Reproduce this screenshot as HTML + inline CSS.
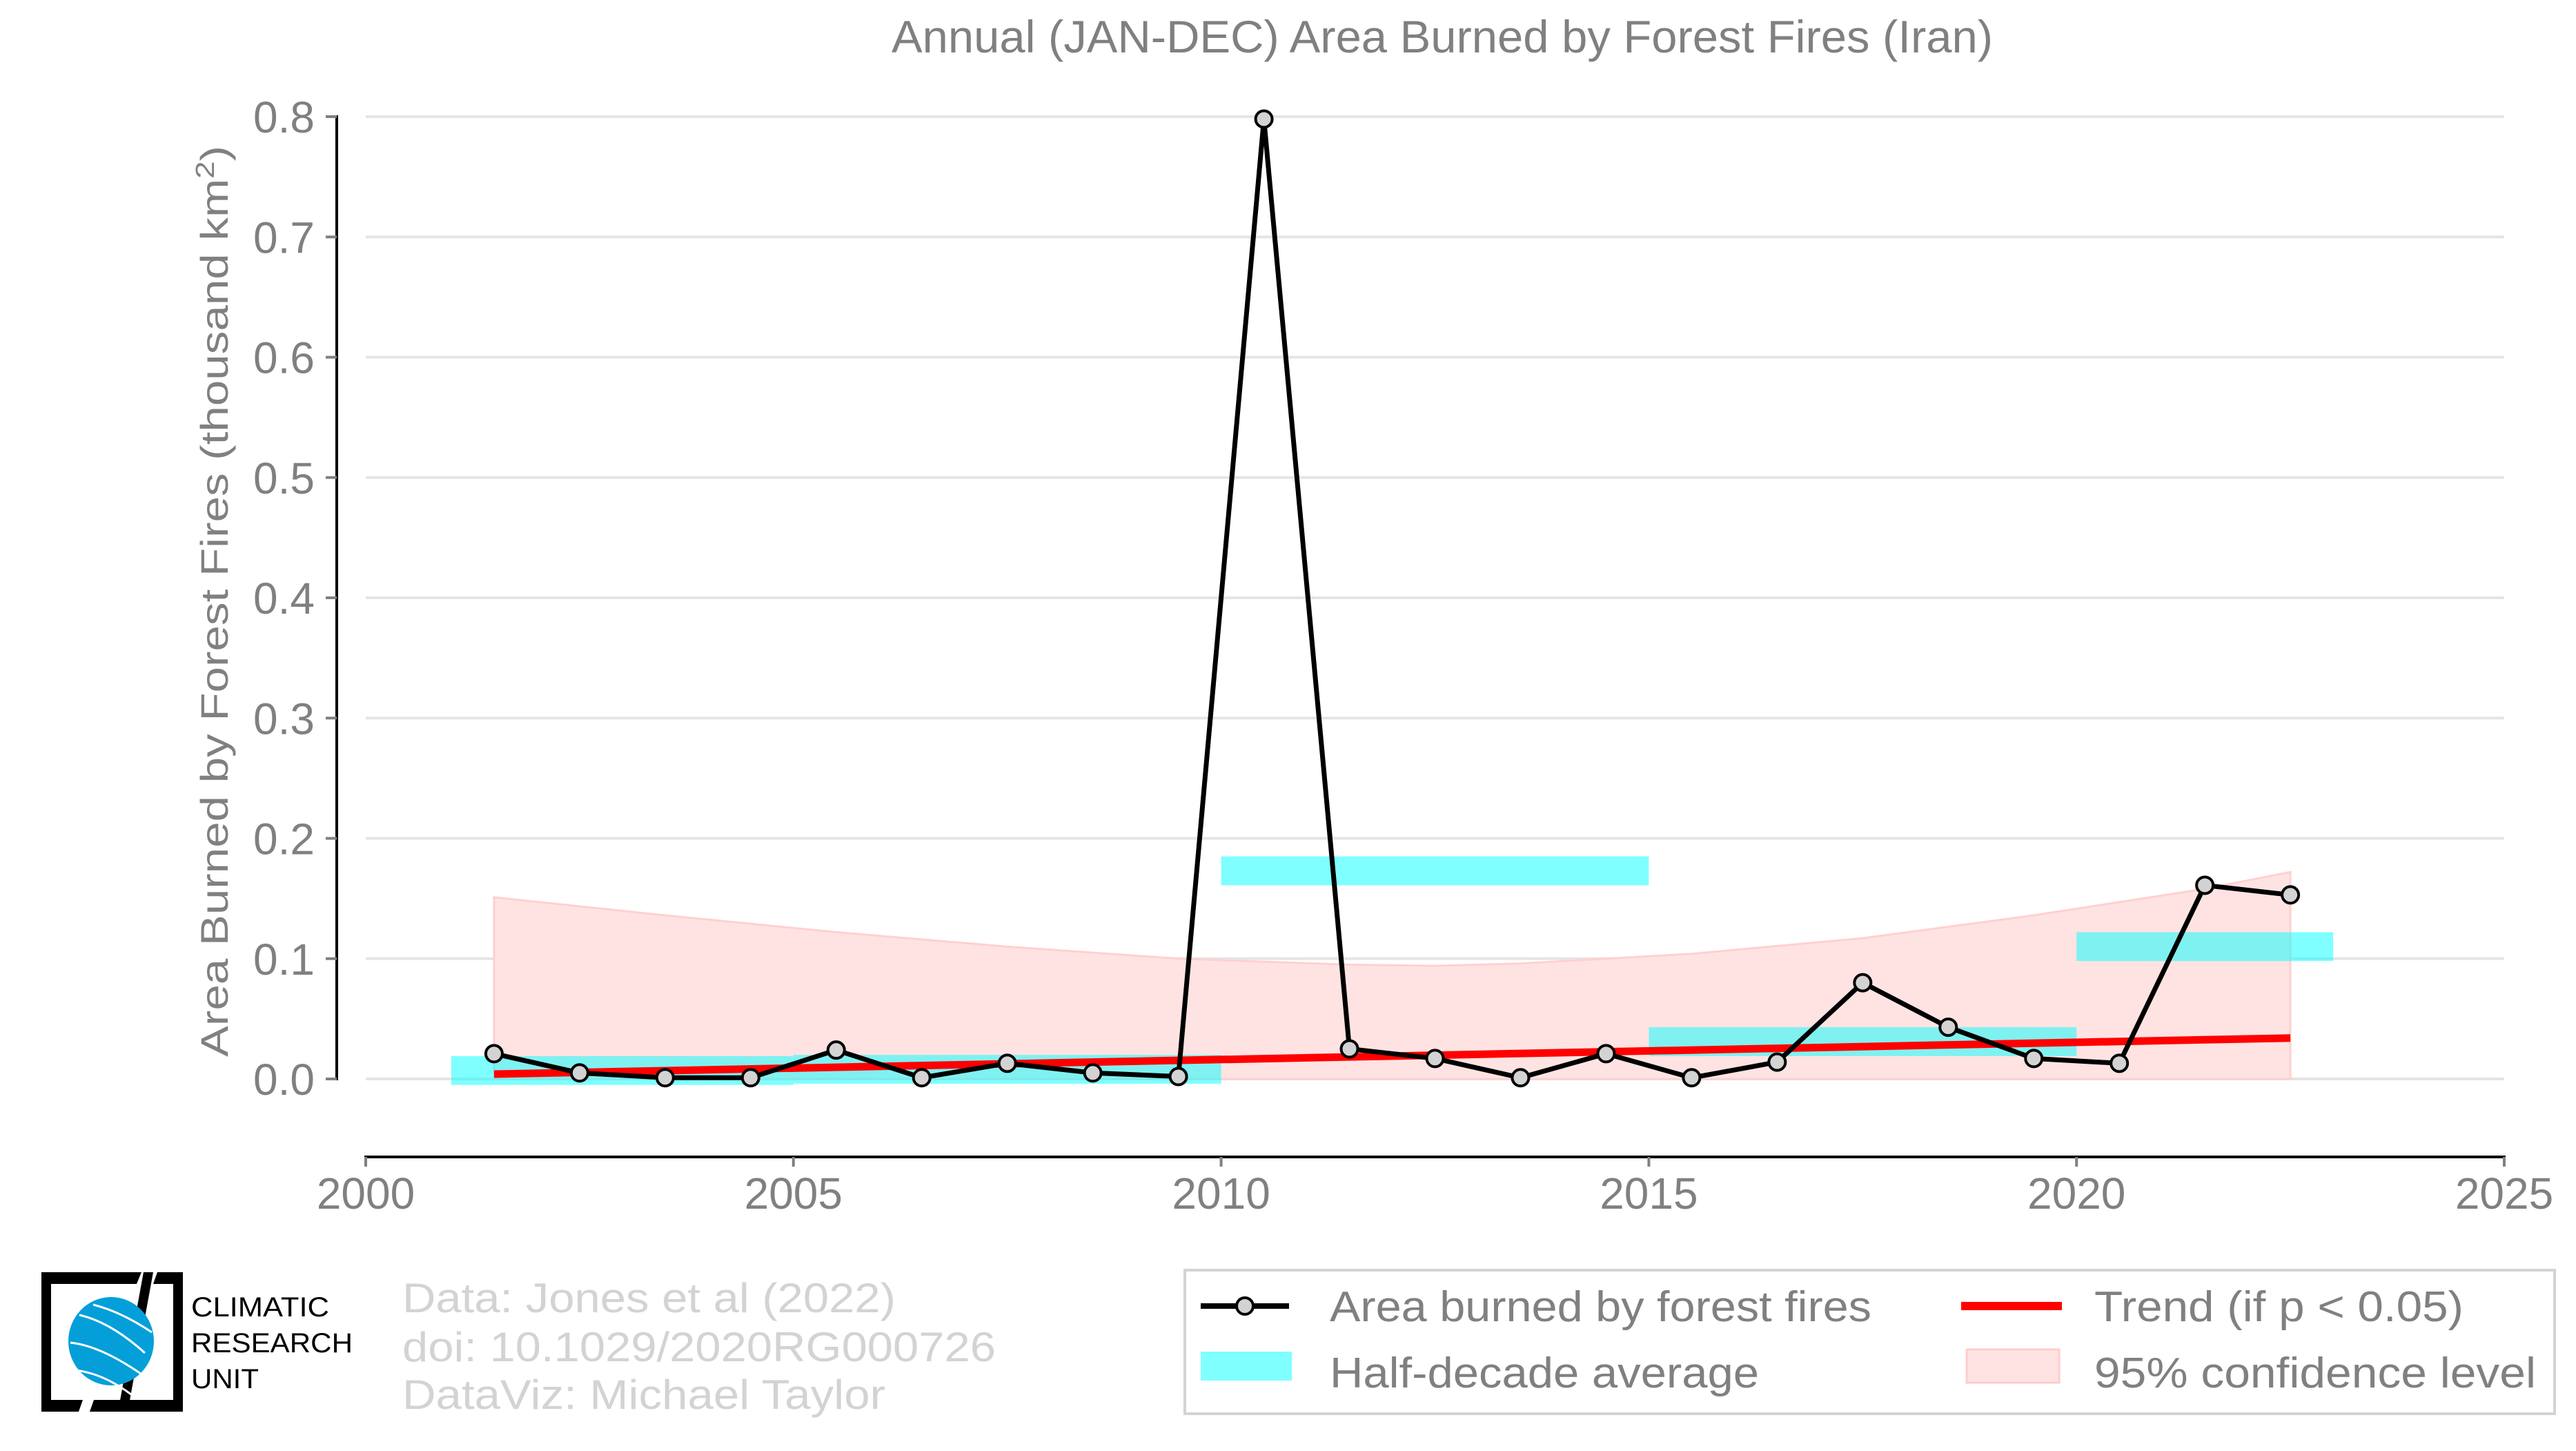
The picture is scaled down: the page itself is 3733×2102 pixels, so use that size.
<!DOCTYPE html>
<html><head><meta charset="utf-8">
<style>
html,body{margin:0;padding:0;background:#fff;}
svg{display:block;font-family:"Liberation Sans",sans-serif;}
</style></head>
<body>
<svg id="chart" width="3733" height="2102" viewBox="0 0 3733 2102" xmlns="http://www.w3.org/2000/svg">
<rect x="0" y="0" width="3733" height="2102" fill="#fff"/>
<text x="2090" y="76" font-size="66" fill="#808080" text-anchor="middle" textLength="1596" lengthAdjust="spacingAndGlyphs">Annual (JAN-DEC) Area Burned by Forest Fires (Iran)</text>
<g id="grid"></g>
<g id="ci"></g>
<g id="bars"></g>
<g id="trend"></g>
<g id="series"></g>
<g id="axes"></g>
<text transform="translate(330,871) rotate(-90)" font-size="56" fill="#808080" text-anchor="middle" textLength="1320" lengthAdjust="spacingAndGlyphs">Area Burned by Forest Fires (thousand km<tspan font-size="38" dy="-20">2</tspan><tspan dy="20">)</tspan></text>

<g>
<path d="M60,1843 H205 L198,1860 H74 V2028 H120 L114,2045 H60 Z" fill="#000"/>
<path d="M265,1843 V2045 H130 L136,2028 H251 V1860 H222 L228,1843 Z" fill="#000"/>
<path d="M208,1843 L222,1843 L185,2045 L171,2045 Z" fill="#000"/>
<ellipse cx="161" cy="1943" rx="62" ry="64" fill="#049fd9"/>
<path d="M115,1905 Q160,1915 210,1960 M102,1945 Q150,1950 218,2000 M110,1985 Q150,1990 190,2020 M135,1890 Q175,1900 220,1930" stroke="#fff" stroke-width="3" fill="none"/>
<text x="277" y="1907" font-size="40" fill="#000" textLength="200" lengthAdjust="spacingAndGlyphs">CLIMATIC</text>
<text x="277" y="1959" font-size="40" fill="#000" textLength="234" lengthAdjust="spacingAndGlyphs">RESEARCH</text>
<text x="277" y="2011" font-size="40" fill="#000" textLength="98" lengthAdjust="spacingAndGlyphs">UNIT</text>
</g>
<g font-size="60" fill="#d3d3d3">
<text x="583" y="1901" textLength="715" lengthAdjust="spacingAndGlyphs">Data: Jones et al (2022)</text>
<text x="583" y="1972" textLength="860" lengthAdjust="spacingAndGlyphs">doi: 10.1029/2020RG000726</text>
<text x="583" y="2041" textLength="700" lengthAdjust="spacingAndGlyphs">DataViz: Michael Taylor</text>
</g>

<g>
<rect x="1717" y="1840" width="1985" height="208" fill="#fff" stroke="#d3d3d3" stroke-width="4"/>
<g>
<line x1="1740" y1="1892" x2="1868" y2="1892" stroke="#000" stroke-width="8"/>
<circle cx="1804" cy="1892" r="12" fill="#d3d3d3" stroke="#000" stroke-width="4"/>
<text x="1927" y="1914" font-size="62" fill="#808080" textLength="785" lengthAdjust="spacingAndGlyphs">Area burned by forest fires</text>
</g>
<g>
<rect x="2842" y="1886" width="146" height="12" fill="#ff0000"/>
<text x="3035" y="1914" font-size="62" fill="#808080" textLength="535" lengthAdjust="spacingAndGlyphs">Trend (if p &lt; 0.05)</text>
</g>
<g>
<rect x="1740" y="1958" width="132" height="42" fill="#80ffff"/>
<text x="1927" y="2010" font-size="62" fill="#808080" textLength="622" lengthAdjust="spacingAndGlyphs">Half-decade average</text>
</g>
<g>
<rect x="2850" y="1955" width="134" height="48" fill="#ffe3e3" stroke="#ffcccc" stroke-width="3"/>
<text x="3035" y="2010" font-size="62" fill="#808080" textLength="640" lengthAdjust="spacingAndGlyphs">95% confidence level</text>
</g>
</g>

<script>
const years = [2001.5,2002.5,2003.5,2004.5,2005.5,2006.5,2007.5,2008.5,2009.5,2010.5,2011.5,2012.5,2013.5,2014.5,2015.5,2016.5,2017.5,2018.5,2019.5,2020.5,2021.5,2022.5];
const burned = [0.021,0.005,0.001,0.001,0.024,0.001,0.013,0.005,0.002,0.798,0.025,0.017,0.001,0.021,0.001,0.014,0.080,0.043,0.017,0.013,0.161,0.153];
const barStarts = [2001,2005,2010,2015,2020];
const barEnds = [2005,2010,2015,2020,2023];
const barValues = [0.007,0.008,0.173,0.031,0.110];
const trendYears = [2001.5,2022.5];
const trendValues = [0.004,0.034];
const ciYears = [2001.5,2003.5,2005.5,2007.5,2009.5,2011.5,2012.5,2013.5,2015.5,2017.5,2019.5,2021.5,2022.5];
const ciUpper = [0.151,0.136,0.122,0.110,0.100,0.095,0.094,0.096,0.104,0.117,0.136,0.158,0.172];
const ciLower = [0,0,0,0,0,0,0,0,0,0,0,0,0];
const yTicks = [0,0.1,0.2,0.3,0.4,0.5,0.6,0.7,0.8];
const yTickLabels = ["0.0","0.1","0.2","0.3","0.4","0.5","0.6","0.7","0.8"];
const xTicks = [2000,2005,2010,2015,2020,2025];
const xTickLabels = ["2000","2005","2010","2015","2020","2025"];

const NS="http://www.w3.org/2000/svg";
const X0=530,X1=3629,Y0=1563,YPER=1742.5;
function xs(v){return X0+(v-2000)*(X1-X0)/25;}
function ys(v){return Y0-v*YPER;}
function mk(tag,attrs,parent){const e=document.createElementNS(NS,tag);for(const k in attrs)e.setAttribute(k,attrs[k]);parent.appendChild(e);return e;}

const grid=document.getElementById('grid');
yTicks.forEach((t,i)=>{
  const l=mk('line',{x1:X0,x2:X1,y1:ys(t),y2:ys(t),stroke:'#e5e5e5','stroke-width':4},grid);
  
  
});

const ci=document.getElementById('ci');
let d='';
ciYears.forEach((yr,i)=>{d+=(i?'L':'M')+xs(yr)+','+ys(ciUpper[i]);});
for(let i=ciYears.length-1;i>=0;i--){d+='L'+xs(ciYears[i])+','+ys(ciLower[i]);}
d+='Z';
const band=mk('path',{d:d,fill:'#ffe3e3',stroke:'#ffd0d0','stroke-width':3},ci);



const bars=document.getElementById('bars');
const BH=0.024;
barValues.forEach((v,i)=>{
  const r=mk('rect',{x:xs(barStarts[i]),y:ys(v+BH/2),width:xs(barEnds[i])-xs(barStarts[i]),height:ys(v-BH/2)-ys(v+BH/2),fill:'#00ffff','fill-opacity':0.5},bars);
  
  
});

const trend=document.getElementById('trend');
const tl=mk('line',{x1:xs(trendYears[0]),y1:ys(trendValues[0]),x2:xs(trendYears[1]),y2:ys(trendValues[1]),stroke:'#ff0000','stroke-width':11},trend);



const series=document.getElementById('series');
const pts=years.map((yr,i)=>xs(yr)+','+ys(burned[i])).join(' ');
const pl=mk('polyline',{points:pts,fill:'none',stroke:'#000','stroke-width':7,'stroke-linejoin':'round'},series);


years.forEach((yr,i)=>{
  const c=mk('circle',{cx:xs(yr),cy:ys(burned[i]),r:12,fill:'#d3d3d3',stroke:'#000','stroke-width':4},series);
  
  
});

const axes=document.getElementById('axes');
const ya=mk('line',{x1:488,x2:488,y1:ys(0.8)-2,y2:ys(0)+2,stroke:'#000','stroke-width':4},axes);


const xa=mk('line',{x1:X0-2,x2:X1+2,y1:1676,y2:1676,stroke:'#000','stroke-width':4},axes);


yTicks.forEach((t,i)=>{
  const tk=mk('line',{x1:472,x2:488,y1:ys(t),y2:ys(t),stroke:'#808080','stroke-width':4},axes);
  
  
  const tx=mk('text',{x:456,y:ys(t)+23,'font-size':64,fill:'#808080','text-anchor':'end'},axes);
  tx.textContent=yTickLabels[i];
  
  
});
xTicks.forEach((t,i)=>{
  const tk=mk('line',{x1:xs(t),x2:xs(t),y1:1676,y2:1690,stroke:'#808080','stroke-width':4},axes);
  
  
  const tx=mk('text',{x:xs(t),y:1751,'font-size':64,fill:'#808080','text-anchor':'middle'},axes);
  tx.textContent=xTickLabels[i];
  
  
});
</script>
</svg>
</body></html>
